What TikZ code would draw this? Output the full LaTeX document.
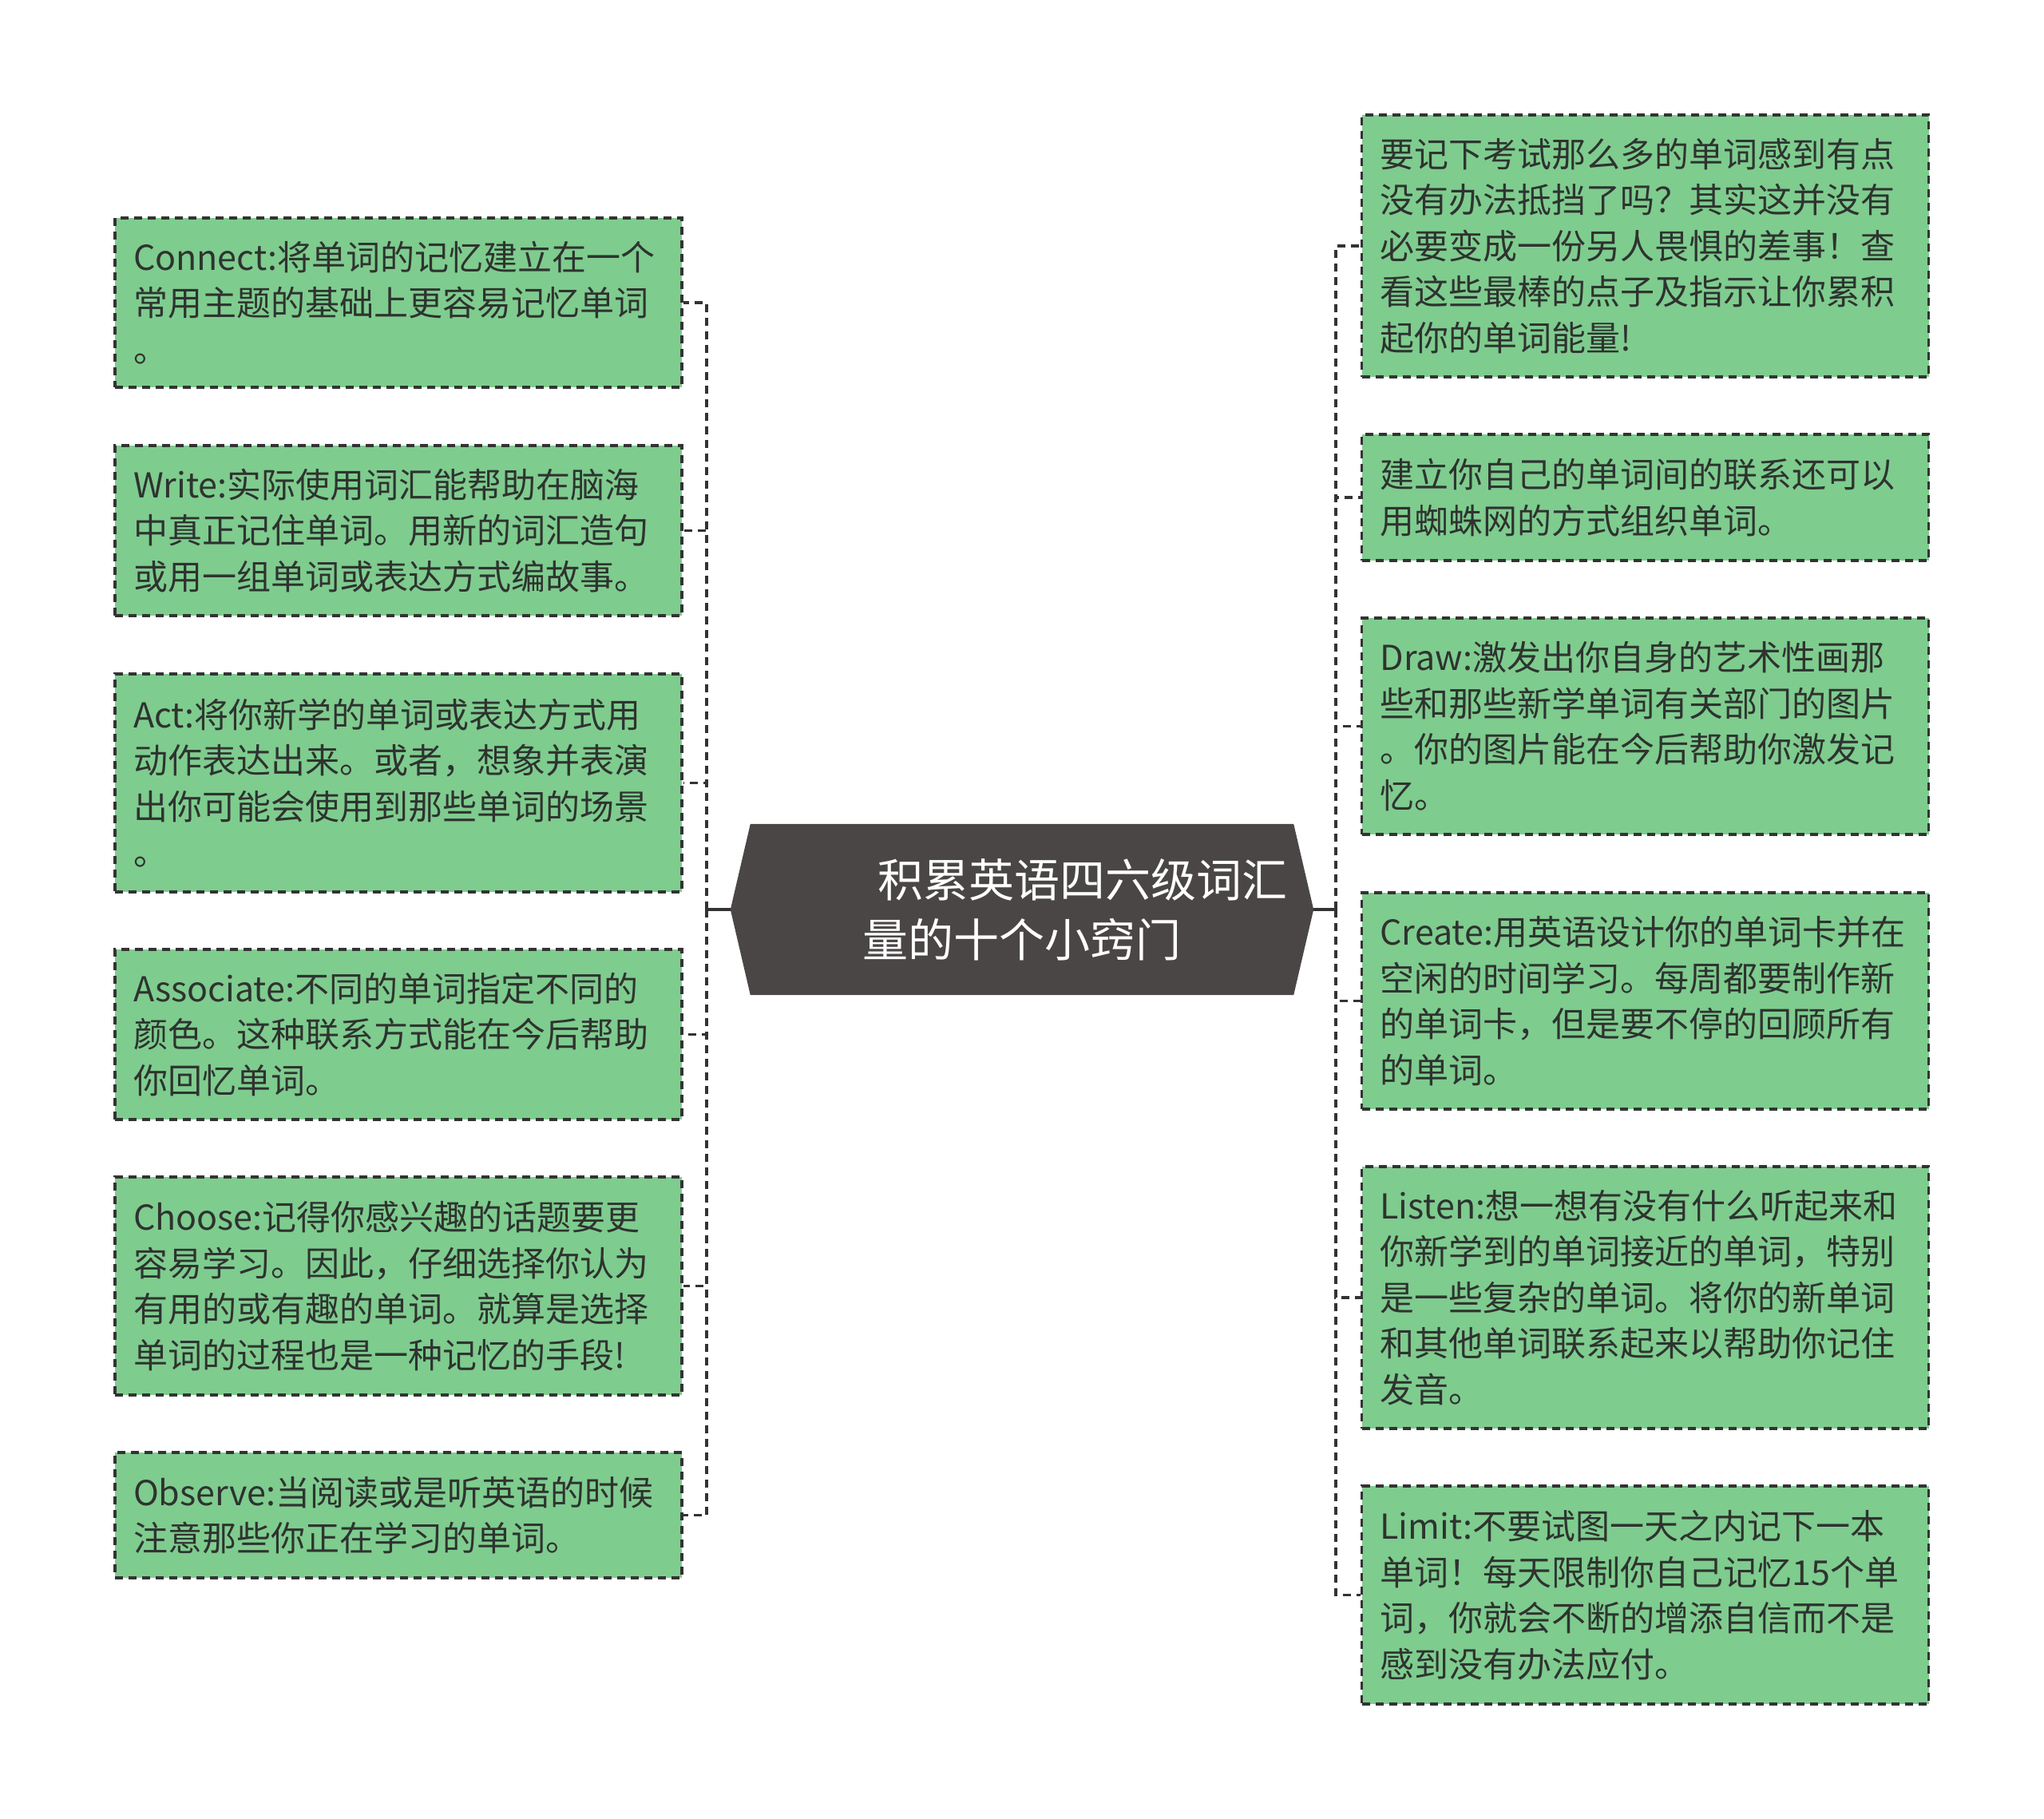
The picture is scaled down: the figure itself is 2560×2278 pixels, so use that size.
\documentclass[tikz,border=0pt]{standalone}
\usepackage{fontspec}
\setmainfont{Noto Sans CJK SC}
\usetikzlibrary{backgrounds}
\definecolor{leafgreen}{HTML}{7FCC8F}
\definecolor{boxline}{HTML}{333333}
\definecolor{txt}{HTML}{2E332F}
\definecolor{centrefill}{HTML}{4B4646}
\begin{document}
\begin{tikzpicture}[x=1pt,y=-1pt,
  leaf/.style={draw=boxline, fill=leafgreen, dash pattern=on 10pt off 7pt,
    line width=3.5pt, text width=664pt, inner xsep=23pt, inner ysep=0pt,
    align=left, text=txt, font=\fontsize{43pt}{57.5pt}\selectfont},
  centre/.style={minimum width=730pt, minimum height=214pt, inner sep=0pt},
  centretext/.style={font=\fontsize{57pt}{75pt}\selectfont, text=white,
    align=left, inner sep=0pt},
  stub/.style={draw=boxline, line width=3.5pt},
  dlink/.style={draw=boxline, line width=3.5pt, dash pattern=on 10pt off 7pt}]
\useasboundingbox (0,0) rectangle (2560,2278);

% centre
\node[centre] (c) at (1280,1139) {};
\begin{scope}[on background layer]
\fill[centrefill] (c.west) -- ([xshift=25pt]c.north west) -- ([xshift=-25pt]c.north east)
  -- (c.east) -- ([xshift=-25pt]c.south east) -- ([xshift=25pt]c.south west) -- cycle;
\end{scope}
\node[centretext, anchor=west] (ct) at ([xshift=165pt]c.west)
  {\hspace*{19pt}积累英语四六级词汇\\量的十个小窍门};

% left leaves
\node[leaf, minimum height=212pt] (l1) at (499,379)
  {Connect:将单词的记忆建立在一个\\常用主题的基础上更容易记忆单词\\。};
\node[leaf, minimum height=213pt] (l2) at (499,664.5)
  {Write:实际使用词汇能帮助在脑海\\中真正记住单词。用新的词汇造句\\或用一组单词或表达方式编故事。};
\node[leaf, minimum height=273pt] (l3) at (499,980.5)
  {Act:将你新学的单词或表达方式用\\动作表达出来。或者，想象并表演\\出你可能会使用到那些单词的场景\\。};
\node[leaf, minimum height=213pt] (l4) at (499,1295.5)
  {Associate:不同的单词指定不同的\\颜色。这种联系方式能在今后帮助\\你回忆单词。};
\node[leaf, minimum height=273pt] (l5) at (499,1610.5)
  {Choose:记得你感兴趣的话题要更\\容易学习。因此，仔细选择你认为\\有用的或有趣的单词。就算是选择\\单词的过程也是一种记忆的手段!};
\node[leaf, minimum height=157pt] (l6) at (499,1897.5)
  {Observe:当阅读或是听英语的时候\\注意那些你正在学习的单词。};

% right leaves
\node[leaf, minimum height=328pt] (r1) at (2060.5,308)
  {要记下考试那么多的单词感到有点\\没有办法抵挡了吗？其实这并没有\\必要变成一份另人畏惧的差事！查\\看这些最棒的点子及指示让你累积\\起你的单词能量!};
\node[leaf, minimum height=158pt] (r2) at (2060.5,623)
  {建立你自己的单词间的联系还可以\\用蜘蛛网的方式组织单词。};
\node[leaf, minimum height=271pt] (r3) at (2060.5,909.5)
  {Draw:激发出你自身的艺术性画那\\些和那些新学单词有关部门的图片\\。你的图片能在今后帮助你激发记\\忆。};
\node[leaf, minimum height=271pt] (r4) at (2060.5,1253.5)
  {Create:用英语设计你的单词卡并在\\空闲的时间学习。每周都要制作新\\的单词卡，但是要不停的回顾所有\\的单词。};
\node[leaf, minimum height=328pt] (r5) at (2060.5,1625)
  {Listen:想一想有没有什么听起来和\\你新学到的单词接近的单词，特别\\是一些复杂的单词。将你的新单词\\和其他单词联系起来以帮助你记住\\发音。};
\node[leaf, minimum height=273pt] (r6) at (2060.5,1997.5)
  {Limit:不要试图一天之内记下一本\\单词！每天限制你自己记忆15个单\\词，你就会不断的增添自信而不是\\感到没有办法应付。};

% connectors
\coordinate (lt) at (885,1139);
\coordinate (rt) at (1673,1139);
\draw[stub] (c.west) -- (lt);
\draw[stub] (c.east) -- (rt);
\foreach \n in {l1,l2,l3,l4,l5,l6} \draw[dlink] (lt) |- (\n.east);
\foreach \n in {r1,r2,r3,r4,r5,r6} \draw[dlink] (rt) |- (\n.west);
\end{tikzpicture}
\end{document}
